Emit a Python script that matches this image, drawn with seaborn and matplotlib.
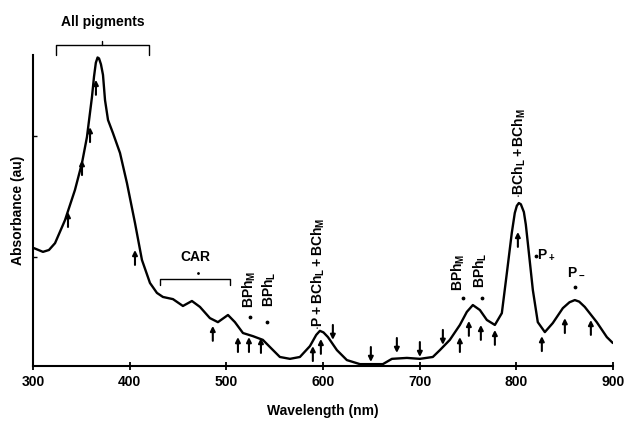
import matplotlib
matplotlib.use("Agg")
import matplotlib.pyplot as plt
import seaborn as sns
import pandas as pd

# ---- data ----
wavelength = [301.0, 310.3, 316.5, 322.8, 333.1, 343.4, 350.7, 355.8, 361.0, 363.1,
              365.0, 366.8, 368.3, 370.3, 372.4, 374.5, 377.6, 382.7, 390.0, 397.2,
              405.5, 412.7, 421.0, 428.2, 434.4, 444.8, 455.1, 464.4, 472.7, 483.0,
              491.3, 501.7, 508.9, 517.2, 527.5, 537.8, 545.1, 555.4, 565.8, 576.1,
              586.5, 593.0, 596.8, 600.5, 605.1, 614.4, 624.7, 638.2, 661.9, 671.3,
              686.8, 700.2, 713.6, 720.9, 731.2, 741.6, 748.8, 755.0, 762.3, 769.5,
              777.8, 785.0, 790.2, 795.3, 798.4, 800.5, 802.6, 804.7, 807.8, 809.8,
              811.9, 817.1, 822.2, 829.5, 837.7, 848.1, 855.0, 860.5, 865.0, 870.8,
              883.2, 893.6, 899.8]
absorbance = [0.379, 0.367, 0.373, 0.395, 0.469, 0.566, 0.653, 0.736, 0.865, 0.930,
              0.975, 0.992, 0.989, 0.970, 0.936, 0.855, 0.791, 0.749, 0.685, 0.588,
              0.460, 0.341, 0.267, 0.235, 0.222, 0.215, 0.193, 0.209, 0.190, 0.154,
              0.141, 0.164, 0.141, 0.106, 0.096, 0.084, 0.061, 0.029, 0.023, 0.029,
              0.064, 0.100, 0.113, 0.108, 0.093, 0.051, 0.019, 0.006, 0.006, 0.023,
              0.026, 0.023, 0.029, 0.051, 0.084, 0.132, 0.174, 0.196, 0.180, 0.148,
              0.132, 0.170, 0.299, 0.428, 0.492, 0.515, 0.524, 0.520, 0.495, 0.455,
              0.395, 0.244, 0.141, 0.109, 0.138, 0.186, 0.205, 0.212, 0.207, 0.190,
              0.141, 0.093, 0.074]

# arrows: x position (nm), tip height, direction (+1 up, -1 down)
arrow_x = [336.2, 350.7, 359.0, 365.1, 405.5, 486.0, 512.0, 523.4, 535.8, 589.5, 597.8,
           610.2, 649.5, 676.4, 700.2, 724.0,
           741.6, 750.9, 763.3, 777.8, 801.6, 826.4, 850.2, 877.1]
arrow_tip = [0.495, 0.662, 0.768, 0.920, 0.373, 0.129, 0.093, 0.093, 0.090, 0.064, 0.087,
             0.084, 0.013, 0.042, 0.029, 0.068,
             0.093, 0.145, 0.132, 0.116, 0.431, 0.096, 0.154, 0.148]
arrow_dir = [1, 1, 1, 1, 1, 1, 1, 1, 1, 1, 1,
             -1, -1, -1, -1, -1,
             1, 1, 1, 1, 1, 1, 1, 1]

xticks = [300, 400, 500, 600, 700, 800, 900]

df = pd.DataFrame({"Wavelength": wavelength, "Absorbance": absorbance})

sns.set_style("ticks")
plt.rcParams["font.family"] = ["Liberation Sans", "DejaVu Sans"]
plt.rcParams["mathtext.fontset"] = "custom"
plt.rcParams["mathtext.rm"] = "Liberation Sans:bold"
plt.rcParams["mathtext.bf"] = "Liberation Sans:bold"
plt.rcParams["mathtext.it"] = "Liberation Sans:bold"
for k in ["text.color", "axes.labelcolor", "xtick.color", "ytick.color", "axes.edgecolor"]:
    plt.rcParams[k] = "black"

fig = plt.figure(figsize=(6.26, 4.23), dpi=100)
ax = fig.add_axes([33/626, 57/423, 580/626, 311/423])

sns.lineplot(data=df, x="Wavelength", y="Absorbance", ax=ax, color="black",
             linewidth=1.7, sort=False)

ax.set_xlim(300, 900)
ax.set_ylim(0, 1.0)
ax.set_xticks(xticks)
ax.set_xticklabels([str(t) for t in xticks], fontsize=10, fontweight="bold")
ax.set_yticks([0.35, 0.74])
ax.set_yticklabels([])
ax.tick_params(axis="x", direction="inout", length=6, width=1.3)
ax.tick_params(axis="y", direction="in", length=3, width=1.0)
sns.despine(ax=ax)
for s in ["left", "bottom"]:
    ax.spines[s].set_linewidth(1.5)
ax.set_xlabel("Wavelength (nm)", fontsize=10, fontweight="bold", labelpad=11)
ax.set_ylabel("Absorbance (au)", fontsize=10, fontweight="bold", labelpad=2)

# arrows
L = 0.048
for x, t, d in zip(arrow_x, arrow_tip, arrow_dir):
    ax.annotate("", xy=(x, t), xytext=(x, t - d * L),
                arrowprops=dict(arrowstyle="-|>", color="black", lw=1.5,
                                mutation_scale=7, shrinkA=0, shrinkB=0))

# All pigments bracket
kw = dict(color="black", lw=1.0, clip_on=False)
ax.plot([323.8, 323.8, 420.0, 420.0], [1.0, 1.032, 1.032, 1.0], **kw)
ax.plot([371.4, 371.4], [1.032, 1.045], **kw)
ax.text(372.4, 1.106, "All pigments", ha="center", va="center",
        fontsize=10, fontweight="bold")

# CAR bracket
ax.plot([431.3, 431.3, 503.7, 503.7], [0.26, 0.28, 0.28, 0.26], **kw)
ax.plot([470.6], [0.299], marker=".", color="black", ms=2)
ax.text(467.5, 0.35, "CAR", ha="center", va="center", fontsize=10, fontweight="bold")

# rotated labels
rot = dict(rotation=90, ha="center", va="bottom", fontsize=10)
ax.text(523.4, 0.186, r"$\mathbf{BPh_M}$", **rot)
ax.text(544.0, 0.190, r"$\mathbf{BPh_L}$", **rot)
ax.text(594.7, 0.115, r"$\mathbf{\cdot P + BCh_L + BCh_M}$", **rot)
ax.text(739.5, 0.241, r"$\mathbf{BPh_M}$", **rot)
ax.text(762.3, 0.251, r"$\mathbf{BPh_L}$", **rot)
ax.text(802.6, 0.54, r"$\mathbf{\cdot BCh_L + BCh_M}$", **rot)
ax.text(830.5, 0.357, r"$\mathbf{P_+}$", ha="center", va="center", fontsize=10)
ax.text(861.5, 0.305, r"$\mathbf{P_-}$", ha="center", va="center", fontsize=10)

dots_x = [524.4, 542.0, 744.7, 764.3, 820.2, 860.5]
dots_y = [0.158, 0.141, 0.219, 0.219, 0.354, 0.254]
ax.scatter(dots_x, dots_y, s=3, color="black", zorder=3)

fig.savefig("out.png", dpi=100)
